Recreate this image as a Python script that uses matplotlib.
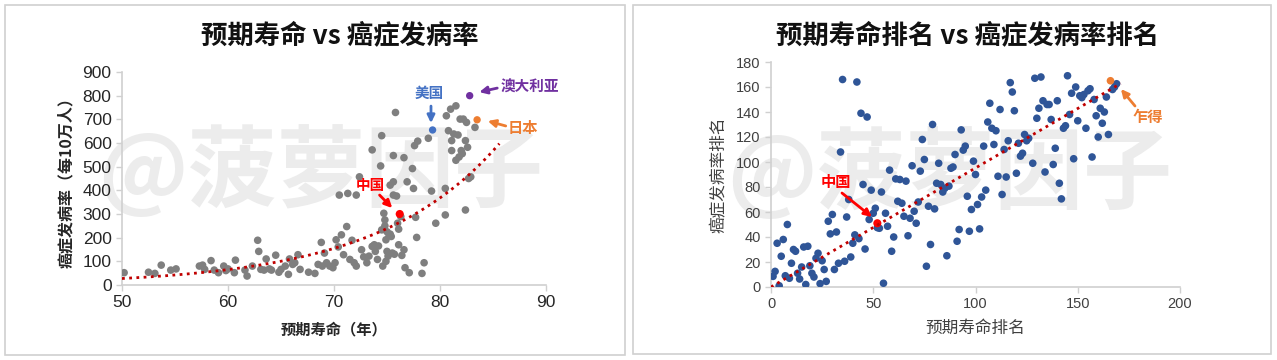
import numpy as np
import matplotlib
matplotlib.use("Agg")
import matplotlib.pyplot as plt
from matplotlib.patches import Rectangle

plt.rcParams['font.family'] = ['Liberation Sans', 'Noto Sans CJK SC', 'DejaVu Sans']
CJK = ['Noto Sans CJK SC', 'DejaVu Sans']

# ---------------- Left chart data: life expectancy vs cancer incidence ----------------
life_exp = [50.2, 52.5, 53.1, 53.7, 54.6, 55.1, 57.3, 57.6, 57.8, 58.4, 58.7, 59.1, 59.6, 59.8,
            60.0, 60.6, 60.7, 61.6, 61.8, 62.3, 62.8, 62.9, 63.1, 63.4, 63.6, 63.9, 64.1, 64.5,
            64.8, 65.0, 65.4, 65.7, 65.8, 66.1, 66.3, 66.6, 66.8, 67.6, 68.2, 68.5, 68.8, 68.9,
            69.1, 69.3, 69.6, 69.9, 70.1, 70.2, 70.4, 70.5, 70.7, 70.9, 71.2, 71.3, 71.5, 71.7,
            71.9, 72.1, 72.1, 72.4, 72.6, 72.8, 73.1, 73.3, 73.6, 73.6, 73.9, 74.1, 74.4, 74.5,
            74.5, 74.6, 74.7, 74.8, 74.9, 75.0, 75.1, 75.3, 75.4, 75.5, 75.6, 75.6, 75.6, 75.8,
            75.9, 76.0, 76.1, 76.1, 76.3, 76.6, 76.6, 76.7, 76.9, 77.1, 77.4, 77.5, 77.6, 77.7,
            77.8, 77.9, 78.3, 78.5, 78.9, 79.2, 79.6, 80.5, 80.5, 80.6, 80.8, 81.0, 81.1, 81.1,
            81.3, 81.5, 81.5, 81.7, 81.8, 81.9, 82.0, 82.1, 82.2, 82.4, 82.4, 82.5, 82.6, 82.7,
            82.9, 83.3, 74.2, 74.8, 75.2, 75.7, 74.9, 75.3, 76.4, 73.8, 75.0]
incidence = [52, 54, 49, 84, 63, 68, 80, 84, 66, 103, 63, 52, 80, 61,
             68, 52, 105, 63, 38, 80, 189, 142, 66, 63, 110, 68, 63, 126,
             54, 66, 80, 45, 110, 87, 94, 128, 66, 54, 49, 87, 180, 80,
             135, 94, 80, 73, 94, 191, 161, 380, 212, 128, 247, 387, 108, 189,
             94, 80, 380, 457, 149, 119, 94, 122, 571, 163, 142, 108, 503, 631,
             233, 80, 303, 275, 191, 142, 122, 422, 205, 135, 547, 380, 436, 729,
             376, 261, 170, 236, 289, 149, 538, 73, 436, 52, 492, 408, 589, 286,
             201, 608, 49, 94, 620, 397, 261, 296, 408, 715, 652, 743, 568, 610,
             638, 757, 527, 634, 541, 701, 568, 555, 701, 317, 610, 687, 582, 450,
             457, 666, 165, 250, 210, 130, 100, 215, 125, 170, 225]

usa_left = (79.3, 655)
aus_left = (82.8, 800)
jpn_left = (83.5, 698)
chn_left = (76.2, 300)

# ---------------- Right chart data: ranks ----------------
life_rank = list(range(1, 127)) + list(range(128, 166)) + [167, 168, 169]
cancer_rank = [8.5, 12.5, 35, 1, 24.6, 38, 9, 50, 7, 19, 30, 28.6, 11, 6.4, 16, 32, 2, 32.6, 17, 11,
               8, 23, 27, 2.7, 21, 14, 4.5, 52.6, 42.5, 58, 14, 44, 19, 108, 166, 20.6, 56, 70, 24, 35,
               41.7, 164, 38.7, 139, 82, 30.4, 136, 54, 77.5, 59, 63, 47.5, 47, 76, 3, 59, 48.6, 93.5, 28.6, 40,
               86.5, 68.6, 86, 67, 56.6, 84.7, 41, 55, 97, 60.6, 51, 68, 92.7, 118, 102, 16.6, 64.6, 34, 130, 62.5,
               83, 99, 82, 76, 79, 25, 80.7, 95, 96, 106, 36.6, 46, 125.7, 109.5, 112.7, 72.6, 44.6, 62, 100.7, 90,
               66, 46.5, 72, 112.7, 77.5, 132, 147, 127, 114, 125, 88.6, 142, 74, 110, 88, 117, 163.5, 156, 141, 91,
               115, 104.7, 107, 122, 117, 119, 99, 167, 135, 143, 168, 149, 92, 146, 146, 134, 98, 111, 149, 83,
               70.5, 127, 129, 169, 138, 155, 102.6, 160, 133, 153, 151.5, 154, 127, 157, 158.6, 104, 150, 137, 120, 143,
               131, 140, 152, 122, 158, 160, 162.6]
chn_right = (52, 51)
tcd_right = (166, 165)

# ---------------- Figure ----------------
W, H = 1277, 360
fig = plt.figure(figsize=(W / 100, H / 100), dpi=100)
fig.patch.set_facecolor('white')

# panel borders
for (x0, y0, x1, y1) in [(5, 5, 625, 355), (633, 5, 1271, 354)]:
    fig.patches.append(Rectangle((x0 / W, 1 - y1 / H), (x1 - x0) / W, (y1 - y0) / H,
                                 transform=fig.transFigure, fill=False,
                                 edgecolor='#d0d0d0', lw=1.2, zorder=-5))

# watermarks
for cx, cy in [(321, 173), (950, 175)]:
    fig.text(cx / W, 1 - cy / H, '@菠萝因子', family=CJK, fontsize=64, fontweight='bold',
             color='#ececec', ha='center', va='center', zorder=-2)

axL = fig.add_axes([122 / W, 1 - 285 / H, (546 - 122) / W, (285 - 72) / H])
axR = fig.add_axes([771 / W, 1 - 287 / H, (1180 - 771) / W, (287 - 62) / H])

for ax in (axL, axR):
    ax.set_facecolor('none')
    for s in ('top', 'right'):
        ax.spines[s].set_visible(False)
    for s in ('left', 'bottom'):
        ax.spines[s].set_color('#d0d0d0')
        ax.spines[s].set_linewidth(1.2)
    ax.tick_params(length=4, width=1, color='#d0d0d0')

# ---- left ----
axL.scatter(life_exp, incidence, s=30, color='#7f7f7f', edgecolors='none', zorder=3)
axL.scatter(*usa_left, s=28, color='#4472c4', edgecolors='none', zorder=4)
axL.scatter(*aus_left, s=28, color='#7030a0', edgecolors='none', zorder=4)
axL.scatter(*jpn_left, s=28, color='#ed7d31', edgecolors='none', zorder=4)
axL.scatter(*chn_left, s=34, color='#ff0000', edgecolors='none', zorder=4)

allx = np.array(life_exp + [usa_left[0], aus_left[0], jpn_left[0], chn_left[0]])
ally = np.array(incidence + [usa_left[1], aus_left[1], jpn_left[1], chn_left[1]])
b, lna = np.polyfit(allx, np.log(ally), 1)
xt = np.linspace(50, 85.6, 200)
axL.plot(xt, np.exp(lna + b * xt), color='#c00000', lw=2, linestyle=(0, (1, 1.6)), zorder=5)

axL.set_xlim(50, 90)
axL.set_ylim(0, 900)
axL.set_xticks(np.arange(50, 91, 10))
axL.set_yticks(np.arange(0, 901, 100))
axL.tick_params(labelsize=12.5, labelcolor='#262626')
axL.set_xlabel('预期寿命（年）', family=CJK, fontsize=11, fontweight='bold', color='#262626', labelpad=8)
axL.set_ylabel('癌症发病率（每10万人）', family=CJK, fontsize=11.5, fontweight='bold', color='#262626', labelpad=6)
fig.text(340 / W, 1 - 36 / H, '预期寿命 vs 癌症发病率', family=CJK, fontsize=19, fontweight='bold',
         ha='center', va='center', color='#111111')

def label(ax, txt, pos, tail, head, color, fs):
    ax.text(pos[0], pos[1], txt, family=CJK, fontsize=fs, fontweight='bold', color=color,
            ha='center', va='center', zorder=6)
    ax.annotate('', xy=head, xytext=tail,
                arrowprops=dict(arrowstyle='-|>,head_length=0.45,head_width=0.22', color=color,
                                lw=2, shrinkA=0, shrinkB=0), zorder=6)

label(axL, '美国', (78.96, 811), (79.15, 756), (79.15, 684), '#4472c4', 10.5)
label(axL, '澳大利亚', (88.5, 837), (85.4, 832), (83.7, 815), '#7030a0', 10.5)
label(axL, '日本', (87.8, 663), (86.2, 672), (84.5, 693), '#ed7d31', 11)
label(axL, '中国', (73.4, 423), (74.3, 380), (75.5, 325), '#ff0000', 10.5)

# ---- right ----
axR.scatter(life_rank, cancer_rank, s=30, color='#2f5597', edgecolors='none', zorder=3)
axR.scatter(*chn_right, s=34, color='#ff0000', edgecolors='none', zorder=4)
axR.scatter(*tcd_right, s=30, color='#ed7d31', edgecolors='none', zorder=4)

# linear trendline with intercept fixed at 0 (as in the reference)
rx = np.array(life_rank + [chn_right[0], tcd_right[0]], dtype=float)
ry = np.array(cancer_rank + [chn_right[1], tcd_right[1]], dtype=float)
m = np.sum(rx * ry) / np.sum(rx * rx)
xr = np.linspace(0, 171, 100)
axR.plot(xr, m * xr, color='#c00000', lw=2, linestyle=(0, (1, 1.6)), zorder=5)

axR.set_xlim(0, 200)
axR.set_ylim(0, 180)
axR.set_xticks(np.arange(0, 201, 50))
axR.set_yticks(np.arange(0, 181, 20))
axR.tick_params(labelsize=10.5, labelcolor='#404040')
axR.set_xlabel('预期寿命排名', family=CJK, fontsize=12, color='#404040', labelpad=6)
axR.set_ylabel('癌症发病率排名', family=CJK, fontsize=12, color='#404040', labelpad=6)
fig.text(968 / W, 1 - 36 / H, '预期寿命排名 vs 癌症发病率排名', family=CJK, fontsize=19, fontweight='bold',
         ha='center', va='center', color='#111111')

label(axR, '中国', (31.8, 84), (34.7, 75.2), (49.4, 56), '#ff0000', 11)
label(axR, '乍得', (184.4, 136), (178, 144.8), (171.1, 158.4), '#ed7d31', 11)

fig.savefig('out.png', dpi=100, facecolor='white')
